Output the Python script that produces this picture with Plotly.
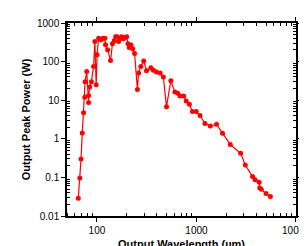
import plotly.graph_objects as go

wavelength_um = [64.9, 67.3, 69.2, 71.2, 73.4, 75.5, 76.0, 78.9, 82.4, 82.3, 84.8, 87.9,
                 92.5, 95.3, 98.2, 100.3, 104, 110, 115, 120, 122, 128, 137, 143, 149,
                 154, 160, 165, 170, 177, 184, 191, 199, 205, 211, 220, 229, 239,
                 255, 262, 276, 295, 315, 348, 369, 396, 432, 465, 500, 553, 608, 649,
                 683, 745, 789, 848, 912, 995, 1086, 1218, 1378, 1591, 1828,
                 2189, 2780, 3098, 3663, 3880, 4266, 4325, 4487, 5000, 5535]
peak_power_w = [0.029, 0.096, 0.30, 1.41, 4.7, 11.9, 30, 55, 8.7, 13.3, 22, 30,
                75, 330, 25, 150, 405, 370, 400, 400, 275, 204, 106, 288, 345,
                440, 440, 330, 405, 440, 390, 420, 440, 290, 233, 271, 215, 162,
                18.8, 51, 75, 104, 58, 69, 60, 54, 51, 40, 6.8, 32, 16.2, 15.2,
                12.9, 12.9, 9.6, 7.9, 5.1, 5.1, 4.0, 2.48, 2.15, 2.37, 1.40,
                0.71, 0.42, 0.21, 0.105, 0.087, 0.075, 0.053, 0.049, 0.038, 0.032]

y_tickvals = [0.01, 0.1, 1, 10, 100, 1000]
y_ticktext = ["0.01", "0.1", "1", "10", "100", "1000"]
x_tickvals = [100, 1000, 10000]
x_ticktext = ["100", "1000", "10000"]

x_minor = [m * 10 ** e for e in range(1, 4) for m in range(2, 10)]
y_minor = [m * 10.0 ** e for e in range(-2, 3) for m in range(2, 10)]

fig = go.Figure()
fig.add_trace(go.Scatter(
    x=wavelength_um, y=peak_power_w, mode="lines+markers",
    line=dict(color="#FF0000", width=1.2),
    marker=dict(color="#FF0000", size=5),
    showlegend=False,
))

axis_common = dict(
    type="log", showgrid=False, zeroline=False,
    showline=True, linecolor="black", linewidth=1.5, mirror="allticks",
    ticks="outside", ticklen=4, tickwidth=1, tickcolor="black",
    tickfont=dict(family="Liberation Sans, Arial", size=10, color="black"),
    ticklabeloverflow="allow",
)

fig.update_xaxes(
    range=[1.699, 4.0005], tickmode="array", tickvals=x_tickvals, ticktext=x_ticktext,
    minor=dict(ticks="inside", ticklen=3, tickcolor="black", tickmode="array",
               tickvals=x_minor, showgrid=False),
    title=dict(text="<b>Output Wavelength (\u00b5m)</b>", standoff=6,
               font=dict(family="Liberation Sans, Arial", size=11, color="black")),
    **axis_common,
)
fig.update_yaxes(
    range=[-2, 3], tickmode="array", tickvals=y_tickvals, ticktext=y_ticktext,
    minor=dict(ticks="inside", ticklen=3, tickcolor="black", tickmode="array",
               tickvals=y_minor, showgrid=False),
    title=dict(text="<b>Output Peak Power (W)</b>", standoff=4,
               font=dict(family="Liberation Sans, Arial", size=11, color="black")),
    **axis_common,
)

fig.update_layout(
    width=307, height=246,
    margin=dict(l=59, r=5, t=15, b=31),
    paper_bgcolor="white", plot_bgcolor="white",
)

fig.write_html("out.html")
